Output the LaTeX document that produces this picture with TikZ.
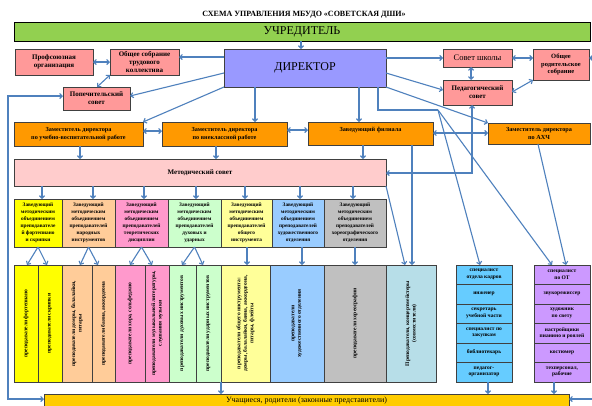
\documentclass[tikz,border=0pt]{standalone}
\usepackage{fontspec}
\setmainfont{Liberation Serif}
\usetikzlibrary{arrows.meta}
\definecolor{arrc}{HTML}{4F81BD}
\definecolor{cgreen}{HTML}{92D050}
\definecolor{cdir}{HTML}{9999FF}
\definecolor{cpink}{HTML}{FF9999}
\definecolor{corange}{HTML}{FF9900}
\definecolor{cmet}{HTML}{FFCCCC}
\definecolor{cyel}{HTML}{FFFF00}
\definecolor{cpeach}{HTML}{FFCC99}
\definecolor{crose}{HTML}{FF99CC}
\definecolor{cmint}{HTML}{CCFFCC}
\definecolor{clyel}{HTML}{FFFF99}
\definecolor{clblue}{HTML}{99CCFF}
\definecolor{cgrey}{HTML}{C0C0C0}
\definecolor{ccyan}{HTML}{B7DEE8}
\definecolor{cstaffb}{HTML}{66CCFF}
\definecolor{cstaffp}{HTML}{CC99FF}
\definecolor{cuch}{HTML}{FFCC00}
\tikzset{
  bx/.style={draw=black!75, line width=0.7pt, inner sep=0.5pt, outer sep=0pt, align=center},
  pinkbox/.style={fill=cpink, font=\fontsize{7}{8}\selectfont\bfseries},
  dep/.style={fill=corange, font=\fontsize{6.2}{8}\selectfont\bfseries},
  head/.style={font=\fontsize{5.3}{7}\selectfont\bfseries},
  coltext/.style={rotate=90, align=center, font=\fontsize{5.5}{6.5}\selectfont\bfseries},
  staff/.style={font=\fontsize{5.5}{6.5}\selectfont\bfseries},
  barb/.tip={Straight Barb[length=2.6pt,width=5.2pt]},
  ln/.style={draw=arrc, line width=1.1pt},
  arr/.style={ln, -barb},
  darr/.style={ln, barb-barb}
}
\newcommand{\mybox}[7]{%
  \node[bx,#6,minimum width={(#4)-(#2)},minimum height={(#5)-(#3)}] (#1) at ({(#2+#4)/2},{(#3+#5)/2}) {#7};}
\begin{document}
\begin{tikzpicture}[x=1pt,y=-1pt]
\useasboundingbox (0,0) rectangle (592,405);
\fill[white] (0,0) rectangle (592,405);

\node[font=\fontsize{8}{9}\selectfont\bfseries] (title) at (304,15) {СХЕМА УПРАВЛЕНИЯ МБУДО «СОВЕТСКАЯ ДШИ»};

\mybox{uchr}{14}{22}{590}{41}{fill=cgreen, draw=black, font=\fontsize{12}{13}\selectfont}{УЧРЕДИТЕЛЬ}
\mybox{dir}{224}{49}{386}{87}{fill=cdir, font=\fontsize{12}{13}\selectfont}{ДИРЕКТОР}
\mybox{prof}{15}{49}{93}{75}{pinkbox}{Профсоюзная\\организация}
\mybox{osk}{110}{49}{179}{75}{pinkbox}{Общее собрание\\трудового\\коллектива}
\mybox{pop}{63}{87}{130}{110}{pinkbox}{Попечительский\\совет}
\mybox{ss}{443}{49}{512}{67}{pinkbox, font=\fontsize{8.5}{9}\selectfont}{Совет школы}
\mybox{ors}{533}{49}{589}{80}{pinkbox, font=\fontsize{6.5}{7.5}\selectfont\bfseries}{Общее\\родительское\\собрание}
\mybox{ped}{443}{80}{512}{105}{pinkbox}{Педагогический\\совет}

\mybox{uvr}{14}{122}{143}{146}{dep}{Заместитель директора\\по учебно-воспитательной работе}
\mybox{vr}{162}{122}{287}{146}{dep}{Заместитель директора\\по внеклассной работе}
\mybox{fil}{308}{122}{433}{145}{dep}{}
\node[font=\fontsize{6.2}{8}\selectfont\bfseries] (filt) at ([yshift=-8pt]fil.north) {Заведующий филиала};
\mybox{axc}{488}{123}{590}{144}{dep}{Заместитель директора\\по АХЧ}

\mybox{met}{14}{159}{386}{186}{fill=cmet, font=\fontsize{7}{8}\selectfont\bfseries}{Методический совет}

\mybox{h1}{14}{199}{62}{247}{fill=cyel,head}{Заведующий\\методическим\\объединением\\преподавателе\\й фортепиано\\и скрипки}
\mybox{h2}{62}{199}{115}{247}{fill=cpeach,head}{Заведующий\\методическим\\объединением\\преподавателей\\народных\\инструментов}
\mybox{h3}{115}{199}{168}{247}{fill=crose,head}{Заведующий\\методическим\\объединением\\преподавателей\\теоретических\\дисциплин}
\mybox{h4}{168}{199}{221}{247}{fill=cmint,head}{Заведующий\\методическим\\объединением\\преподавателей\\духовых и\\ударных}
\mybox{h5}{221}{199}{272}{247}{fill=clyel,head}{Заведующий\\методическим\\объединением\\преподавателей\\общего\\инструмента}
\mybox{h6}{272}{199}{324}{247}{fill=clblue,head}{Заведующий\\методическим\\объединением\\преподавателей\\художественного\\отделения}
\mybox{h7}{324}{199}{386}{247}{fill=cgrey,head}{Заведующий\\методическим\\объединением\\преподавателей\\хореографического\\отделения}

\mybox{c1}{14}{265}{38}{382}{fill=cyel}{}
\mybox{c2}{38}{265}{62}{382}{fill=cyel}{}
\mybox{c3}{62}{265}{92}{382}{fill=cpeach}{}
\mybox{c4}{92}{265}{115}{382}{fill=cpeach}{}
\mybox{c5}{115}{265}{145}{382}{fill=crose}{}
\mybox{c6}{145}{265}{169}{382}{fill=crose}{}
\mybox{c7}{169}{265}{196}{382}{fill=cmint}{}
\mybox{c8}{196}{265}{221}{382}{fill=cmint}{}
\mybox{c9}{221}{265}{270}{382}{fill=clyel}{}
\mybox{c10}{270}{265}{324}{382}{fill=clblue}{}
\mybox{c11}{324}{265}{386}{382}{fill=cgrey}{}
\mybox{c12}{386}{265}{436}{382}{fill=ccyan}{}
\node[coltext] (t1) at (c1) {преподаватели фортепиано};
\node[coltext] (t2) at (c2) {преподаватели скрипки};
\node[coltext] (t3) at (c3) {преподаватели домры, балалайки,\\гитары};
\node[coltext] (t4) at (c4) {преподаватели баяна, аккордеона};
\node[coltext] (t5) at (c5) {преподаватели хора, сольфеджио};
\node[coltext] (t6) at (c6) {преподаватели музыкальной литературы,\\слушания музыки};
\node[coltext] (t7) at (c7) {преподаватели духовых инструментов};
\node[coltext] (t8) at (c8) {преподаватели ударных инструментов};
\node[coltext] (t9) at (c9) {преподаватели общего инструмента:\\домры, балалайки, баяна, аккордеона,\\гитары, флейты};
\node[coltext] (t10) at (c10) {преподаватели\\художественного отделения};
\node[coltext] (t11) at (c11) {преподаватели хореографии};
\node[coltext] (t12) at (c12) {Преподаватели, концертмейстеры\\(совместители)};

\mybox{sb1}{456}{265}{512}{284}{fill=cstaffb,staff}{специалист\\отдела кадров}
\mybox{sb2}{456}{284}{512}{304}{fill=cstaffb,staff}{инженер}
\mybox{sb3}{456}{304}{512}{323}{fill=cstaffb,staff}{секретарь\\учебной части}
\mybox{sb4}{456}{323}{512}{343}{fill=cstaffb,staff}{специалист по\\закупкам}
\mybox{sb5}{456}{343}{512}{362}{fill=cstaffb,staff}{библиотекарь}
\mybox{sb6}{456}{362}{512}{382}{fill=cstaffb,staff}{педагог-\\организатор}
\mybox{sp1}{534}{265}{590}{284}{fill=cstaffp,staff}{специалист\\по ОТ}
\mybox{sp2}{534}{284}{590}{304}{fill=cstaffp,staff}{звукорежиссер}
\mybox{sp3}{534}{304}{590}{323}{fill=cstaffp,staff}{художник\\по свету}
\mybox{sp4}{534}{323}{590}{343}{fill=cstaffp,staff}{настройщики\\пианино и роялей}
\mybox{sp5}{534}{343}{590}{362}{fill=cstaffp,staff}{костюмер}
\mybox{sp6}{534}{362}{590}{382}{fill=cstaffp,staff}{техперсонал,\\рабочие}

\mybox{uch}{44}{394}{569}{407}{fill=cuch, font=\fontsize{8}{9}\selectfont}{Учащиеся, родители (законные представители)}

% connectors
\draw[arr] (uchr.south -| 301,0) -- (dir.north -| 301,0);
\draw[arr] (dir.west |- 0,57) -- (osk.east |- 0,57);
\draw[darr] (prof.east |- 0,62) -- (osk.west |- 0,62);
\draw[darr] (osk.south west) -- (pop.north -| 97,0);
\draw[arr] (dir.west |- 0,73) -- (pop.east |- 0,96);
\draw[darr] (pop.west |- 0,96) -- (8,96) -- (8,399) -- (uch.west |- 0,399);
\draw[arr] (dir.east |- 0,58) -- (ss.west |- 0,58);
\draw[darr] (ss.east |- 0,58) -- (ors.west |- 0,58);
\draw[darr] (ss.south -| 471,0) -- (ped.north -| 471,0);
\draw[darr] (ped.east |- 0,92) -- (ors.south west);
\draw[arr] (dir.east |- 0,73) -- (ped.west |- 0,90);
\draw[darr] (ors.east |- 0,58) -- (600,58) -- (600,399) -- (uch.east |- 0,399);
\draw[arr] (dir.south west) -- (uvr.north east);
\draw[arr] (dir.south -| 255,0) -- (vr.north -| 255,0);
\draw[arr] (dir.south -| 359,0) -- (fil.north -| 359,0);
\draw[arr] (dir.south east) -- (axc.north west);
\draw[ln] (dir.south -| 378,0) -- (378,110) -- (438,110) coordinate (fan);
\draw[arr] (fan) -- (sb1.north -| 480,0);
\draw[arr] (fan) -- (sp1.north -| 552,0);
\draw[darr] (uvr.east |- 0,131) -- (vr.west |- 0,131);
\draw[darr] (vr.east |- 0,130) -- (fil.west |- 0,130);
\draw[darr] (fil.east |- 0,133) -- (axc.west |- 0,133);
\draw[arr] (uvr.south -| 80,0) -- (met.north -| 80,0);
\draw[arr] (vr.south -| 216,0) -- (met.north -| 216,0);
\draw[arr] (fil.south -| 363,0) -- (met.north -| 363,0);
\draw[arr] (fil.south -| 412,0) -- (c12.north -| 412,0);
\draw[arr] (met.south east) -- (c12.north -| 405,0);
\draw[darr] (ped.south -| 472,0) -- (472,173) -- (met.east |- 0,173);
\draw[arr] (axc.south -| 538,0) -- (sp1.north -| 566,0);
\draw[arr] (met.south -| 42,0) -- (h1.north -| 42,0);
\draw[arr] (met.south -| 93,0) -- (h2.north -| 93,0);
\draw[arr] (met.south -| 144,0) -- (h3.north -| 144,0);
\draw[arr] (met.south -| 196,0) -- (h4.north -| 196,0);
\draw[arr] (met.south -| 245,0) -- (h5.north -| 245,0);
\draw[arr] (met.south -| 300,0) -- (h6.north -| 300,0);
\draw[arr] (met.south -| 353,0) -- (h7.north -| 353,0);
\draw[arr] (h1.south) -- (c1.north -| 27,0);
\draw[arr] (h1.south) -- (c2.north -| 47,0);
\draw[arr] (h2.south) -- (c3.north -| 80,0);
\draw[arr] (h2.south) -- (c4.north -| 98,0);
\draw[arr] (h3.south) -- (c5.north -| 130,0);
\draw[arr] (h3.south) -- (c6.north -| 152,0);
\draw[arr] (h4.south) -- (c7.north -| 182,0);
\draw[arr] (h4.south) -- (c8.north -| 203,0);
\draw[arr] (h5.south -| 247,0) -- (c9.north -| 247,0);
\draw[arr] (h6.south -| 302,0) -- (c10.north -| 302,0);
\draw[arr] (h7.south -| 355,0) -- (c11.north -| 355,0);
\draw[arr] (c8.south east) -- (uch.north -| c8.south east);
\draw[arr] (sb6.south -| 488,0) -- (uch.north -| 488,0);
\draw[arr] (sp6.south -| 554,0) -- (uch.north -| 554,0);
\end{tikzpicture}
\end{document}
